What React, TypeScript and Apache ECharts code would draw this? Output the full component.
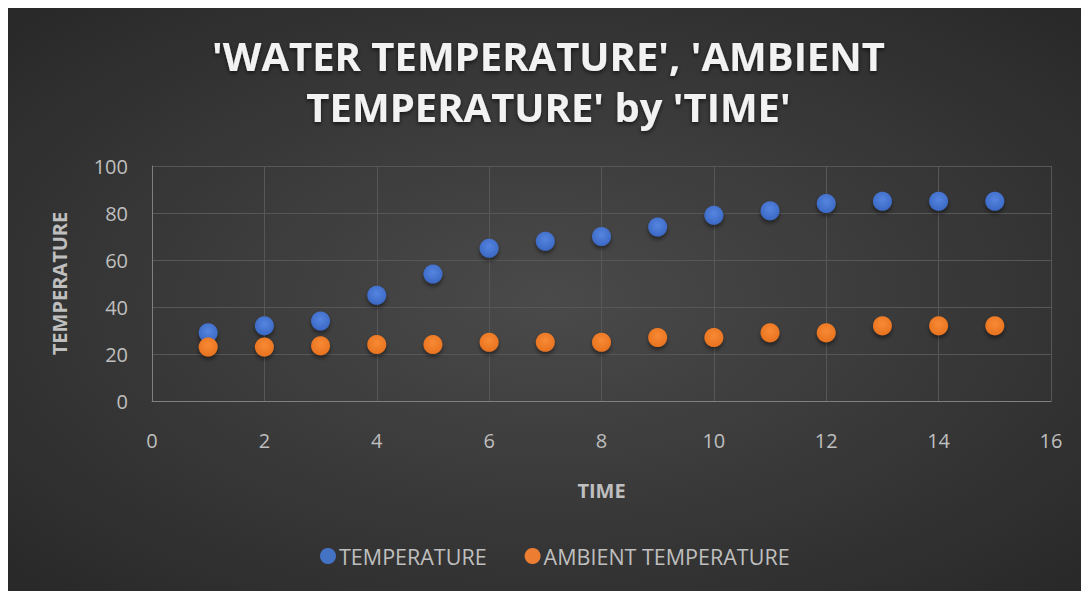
import React, { useEffect, useRef } from "react";
import * as echarts from "echarts";

const times = [1, 2, 3, 4, 5, 6, 7, 8, 9, 10, 11, 12, 13, 14, 15];
const waterTemp = [29, 32, 34, 45, 54, 65, 68, 70, 74, 79, 81, 84, 85, 85, 85];
const ambientTemp = [23, 23, 23.5, 24, 24, 25, 25, 25, 27, 27, 29, 29, 32, 32, 32];
const seriesNames = ["TEMPERATURE", "AMBIENT TEMPERATURE"];
const titleText = "'WATER TEMPERATURE', 'AMBIENT\nTEMPERATURE' by 'TIME'";

const FONT = "'Open Sans', 'Noto Sans', sans-serif";
const TXT = "#bfbfbf";

export default function App() {
  const ref = useRef<HTMLDivElement>(null);
  useEffect(() => {
    if (!ref.current) return;
    const chart = echarts.init(ref.current, null, { renderer: "svg" });
    const pts = (ys: number[]) => times.map((t, i) => [t, ys[i]]);
    const markerStyle = (inner: string, outer: string) => ({
      color: new echarts.graphic.RadialGradient(0.5, 0.4, 0.6, [
        { offset: 0, color: inner },
        { offset: 1, color: outer },
      ]),
      opacity: 1,
      shadowBlur: 4,
      shadowOffsetY: 3,
      shadowColor: "rgba(0,0,0,0.45)",
    });
    chart.setOption({
      animation: false,
      backgroundColor: new echarts.graphic.RadialGradient(0.5, 0.5, 0.75, [
        { offset: 0, color: "#4a4a4a" },
        { offset: 1, color: "#262626" },
      ]),
      title: {
        text: titleText,
        left: "center",
        top: 17,
        textStyle: {
          color: "#f2f2f2",
          fontFamily: FONT,
          fontSize: 40,
          fontWeight: "bold",
          lineHeight: 51,
          textShadowColor: "rgba(0,0,0,0.6)",
          textShadowBlur: 4,
          textShadowOffsetY: 2,
        },
      },
      grid: { left: 144, right: 38, top: 158, bottom: 190, containLabel: false },
      xAxis: {
        type: "value",
        min: 0,
        max: 16,
        interval: 2,
        name: "TIME",
        nameLocation: "middle",
        nameGap: 79,
        nameTextStyle: { color: TXT, fontFamily: FONT, fontSize: 20, fontWeight: "bold" },
        axisLine: { show: true, lineStyle: { color: "#808080", width: 1 } },
        axisTick: { show: false },
        axisLabel: { color: TXT, fontFamily: FONT, fontSize: 20, margin: 29 },
        splitLine: { show: true, lineStyle: { color: "#575757", width: 1 } },
      },
      yAxis: {
        type: "value",
        min: 0,
        max: 100,
        interval: 20,
        name: "TEMPERATURE",
        nameLocation: "middle",
        nameGap: 83,
        nameRotate: 90,
        nameTextStyle: { color: TXT, fontFamily: FONT, fontSize: 20, fontWeight: "bold" },
        axisLine: { show: true, lineStyle: { color: "#808080", width: 1 } },
        axisTick: { show: false },
        axisLabel: { color: TXT, fontFamily: FONT, fontSize: 20, margin: 24 },
        splitLine: { show: true, lineStyle: { color: "#575757", width: 1 } },
      },
      legend: {
        bottom: 19,
        left: 307,
        itemGap: 38,
        itemWidth: 16,
        itemHeight: 16,
        icon: "circle",
        textStyle: { color: TXT, fontFamily: FONT, fontSize: 21.5, padding: [0, 0, 0, -2] },
        data: [
          { name: seriesNames[0], itemStyle: { color: "#4472c4", opacity: 1 } },
          { name: seriesNames[1], itemStyle: { color: "#ed7d31", opacity: 1 } },
        ],
      },
      series: [
        {
          name: seriesNames[0],
          type: "scatter",
          symbolSize: 19,
          data: pts(waterTemp),
          itemStyle: markerStyle("#5585e0", "#3a68c4"),
        },
        {
          name: seriesNames[1],
          type: "scatter",
          symbolSize: 19,
          data: pts(ambientTemp),
          itemStyle: markerStyle("#f88a34", "#e8721f"),
        },
      ],
    });
    return () => chart.dispose();
  }, []);
  return <div ref={ref} style={{ width: 1081, height: 583 }} />;
}
